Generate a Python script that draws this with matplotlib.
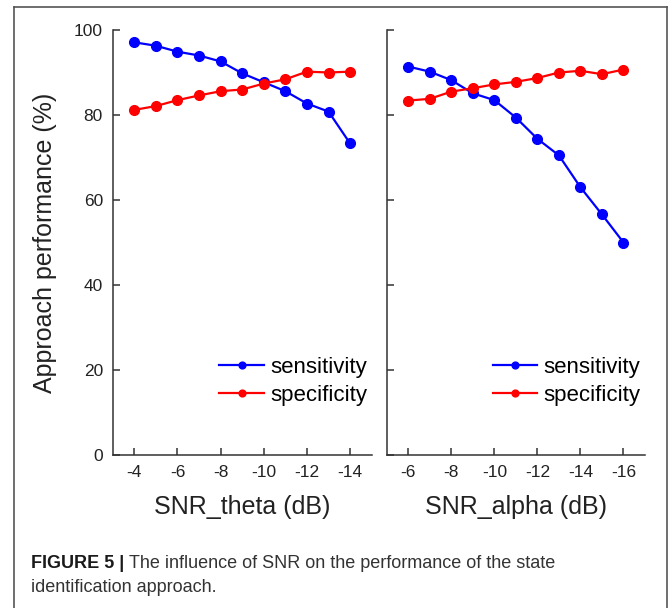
import matplotlib
matplotlib.use("Agg")
import matplotlib.pyplot as plt
from matplotlib.lines import Line2D
import numpy as np

plt.rcParams['font.family'] = ['Liberation Sans', 'DejaVu Sans']

# data
snr_theta = [-4, -5, -6, -7, -8, -9, -10, -11, -12, -13, -14]
theta_sens = [97.1, 96.3, 94.9, 94.0, 92.6, 89.8, 87.7, 85.6, 82.7, 80.8, 73.3]
theta_spec = [81.2, 82.1, 83.5, 84.6, 85.6, 86.0, 87.4, 88.4, 90.2, 90.0, 90.2]

snr_alpha = [-6, -7, -8, -9, -10, -11, -12, -13, -14, -15, -16]
alpha_sens = [91.4, 90.2, 88.2, 85.1, 83.5, 79.4, 74.4, 70.5, 63.0, 56.6, 50.0]
alpha_spec = [83.4, 83.8, 85.5, 86.3, 87.2, 87.8, 88.7, 90.0, 90.4, 89.6, 90.7]

theta_ticks = [-4, -6, -8, -10, -12, -14]
alpha_ticks = [-6, -8, -10, -12, -14, -16]
y_ticks = [0, 20, 40, 60, 80, 100]

W, H = 669, 608
fig = plt.figure(figsize=(W / 100, H / 100), dpi=100)

def px(x0, y_top, x1, y_bot):
    return [x0 / W, 1 - y_bot / H, (x1 - x0) / W, (y_bot - y_top) / H]

ax1 = fig.add_axes(px(112.7, 30, 371.7, 455))
ax2 = fig.add_axes(px(386.7, 30, 645, 455))

panels = [
    (ax1, snr_theta, theta_sens, theta_spec, theta_ticks, (-3, -15), 'SNR_theta (dB)'),
    (ax2, snr_alpha, alpha_sens, alpha_spec, alpha_ticks, (-5, -17), 'SNR_alpha (dB)'),
]

for ax, x, sens, spec, ticks, xl, lab in panels:
    ax.plot(x, sens, '-o', color='#0000ff', lw=1.6, ms=7, label='sensitivity')
    ax.plot(x, spec, '-o', color='#ff0000', lw=1.6, ms=7, label='specificity')
    ax.set_xlim(*xl)
    ax.set_ylim(0, 100)
    ax.set_xticks(ticks)
    ax.set_xticklabels([str(t) for t in ticks])
    ax.set_yticks(y_ticks)
    for s in ['top', 'right']:
        ax.spines[s].set_visible(False)
    for s in ['left', 'bottom']:
        ax.spines[s].set_color('#333333')
        ax.spines[s].set_linewidth(1.1)
    ax.tick_params(direction='in', length=5, width=1.1, color='#333333',
                   labelsize=12.5, labelcolor='#222222', pad=7)
    ax.set_xlabel(lab, fontsize=18, color='#222222', labelpad=11)
    ax.legend(loc='lower right', bbox_to_anchor=(1.035, 0.085), frameon=False,
              fontsize=16, handlelength=2.0, handletextpad=0.3,
              labelspacing=0.3, borderaxespad=0.2, markerscale=0.7)

ax2.set_yticklabels([])
ax1.set_ylabel('Approach performance (%)', fontsize=18, color='#222222', labelpad=12)

# frame around the figure (no bottom edge)
fc = '#555555'
fig.add_artist(Line2D([14 / W, 14 / W], [0, 1 - 6.5 / H], color=fc, lw=1.2))
fig.add_artist(Line2D([14 / W, 667 / W], [1 - 6.5 / H, 1 - 6.5 / H], color=fc, lw=1.2))
fig.add_artist(Line2D([667 / W, 667 / W], [0, 1 - 6.5 / H], color=fc, lw=1.2))

# caption
cap_size = 13
t1 = fig.text(31 / W, 1 - 563 / H, 'FIGURE 5 | ', fontsize=cap_size, weight='bold',
              color='#1a1a1a', va='center')
fig.canvas.draw()
bb = t1.get_window_extent()
fig.text(bb.x1 / W, 1 - 563 / H, 'The influence of SNR on the performance of the state',
         fontsize=cap_size, color='#333333', va='center')
fig.text(31 / W, 1 - 588 / H, 'identification approach.', fontsize=cap_size,
         color='#333333', va='center')

fig.savefig('out.png', dpi=100)
